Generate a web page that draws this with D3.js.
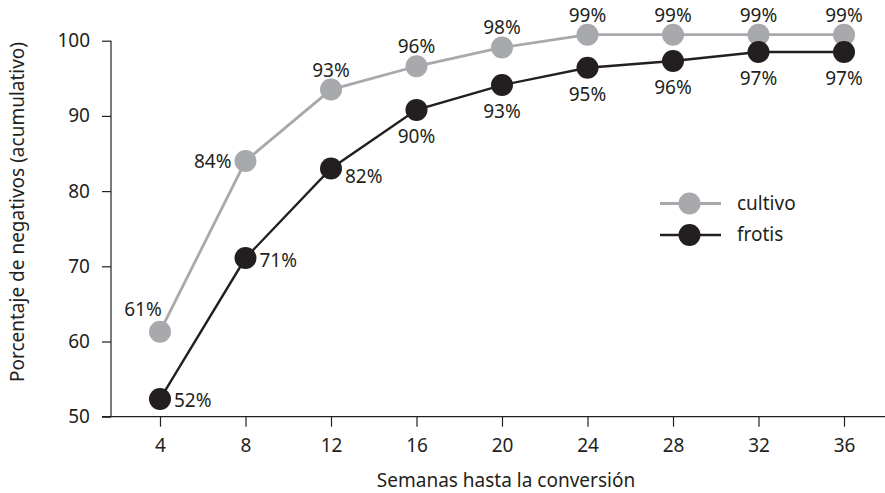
<!DOCTYPE html>
<html><head><meta charset="utf-8">
<script src="https://cdn.jsdelivr.net/npm/d3@7"></script>
<style>body{margin:0;background:#fff}svg{display:block}text{font-family:"Noto Sans",sans-serif;fill:#231f20}</style>
</head><body>
<svg id="c" width="885" height="493"></svg>
<script>
const weeks = [4, 8, 12, 16, 20, 24, 28, 32, 36];
const cultivo = [61.3, 84.0, 93.5, 96.6, 99.1, 100.8, 100.8, 100.8, 100.8];
const cultivoLabels = ["61%", "84%", "93%", "96%", "98%", "99%", "99%", "99%", "99%"];
const frotis = [52.35, 71.1, 83.0, 90.8, 94.1, 96.4, 97.3, 98.5, 98.5];
const frotisLabels = ["52%", "71%", "82%", "90%", "93%", "95%", "96%", "97%", "97%"];
const yTicks = [50, 60, 70, 80, 90, 100];
const seriesNames = ["cultivo", "frotis"];

const GRAY = "#a7a9ac", BLACK = "#231f20";
const svg = d3.select("#c");
const x = d3.scaleLinear().domain([4, 36]).range([160, 844]);
const y = d3.scaleLinear().domain([50, 100]).range([416.7, 40.7]);
const FS = 19;

// y axis
const yAxis = svg.append("g").attr("transform", "translate(111,0)")
  .call(d3.axisLeft(y).tickValues(yTicks).tickSize(9).tickPadding(12));
yAxis.select(".domain").remove();
svg.append("line").attr("x1",111).attr("x2",111).attr("y1",y(100)).attr("y2",y(50))
  .attr("stroke",BLACK).attr("stroke-width",1.2);
// x axis
const xAxis = svg.append("g").attr("transform", `translate(0,${y(50)})`)
  .call(d3.axisBottom(x).tickValues(weeks).tickSize(10).tickPadding(12));
xAxis.select(".domain").remove();
svg.append("line").attr("x1",102).attr("x2",885).attr("y1",y(50)).attr("y2",y(50))
  .attr("stroke",BLACK).attr("stroke-width",1.2);
svg.selectAll(".tick line").attr("stroke",BLACK).attr("stroke-width",1.2);
svg.selectAll(".tick text").attr("font-size",FS).attr("font-family","Noto Sans").attr("fill",BLACK);

// titles
svg.append("text").attr("transform","translate(24,212) rotate(-90)").attr("text-anchor","middle")
  .attr("font-size",FS).text("Porcentaje de negativos (acumulativo)");
svg.append("text").attr("x",506).attr("y",487).attr("text-anchor","middle")
  .attr("font-size",FS).text("Semanas hasta la conversión");

const line = d3.line().x((d,i)=>x(weeks[i])).y(d=>y(d));
function drawSeries(vals, color, sw){
  svg.append("path").datum(vals).attr("d",line).attr("fill","none")
    .attr("stroke",color).attr("stroke-width",sw);
  svg.append("g").selectAll("circle").data(vals).join("circle")
    .attr("cx",(d,i)=>x(weeks[i])).attr("cy",d=>y(d)).attr("r",11).attr("fill",color);
}
drawSeries(cultivo, GRAY, 2.8);
drawSeries(frotis, BLACK, 2.4);

// cultivo labels
svg.append("g").selectAll("text").data(cultivo).join("text")
  .attr("font-size",FS)
  .attr("x",(d,i)=> i===0 ? x(weeks[i])-17 : i===1 ? x(weeks[i])-14 : x(weeks[i]))
  .attr("y",(d,i)=> i===0 ? y(d)-16 : i===1 ? y(d)+7 : y(d)-13)
  .attr("text-anchor",(d,i)=> i===0 ? "middle" : i===1 ? "end" : "middle")
  .text((d,i)=>cultivoLabels[i]);
// frotis labels
svg.append("g").selectAll("text").data(frotis).join("text")
  .attr("font-size",FS)
  .attr("x",(d,i)=> i<3 ? x(weeks[i])+14 : x(weeks[i]))
  .attr("y",(d,i)=> i===0 ? y(d)+8 : i===1 ? y(d)+9 : i===2 ? y(d)+14 : y(d)+33)
  .attr("text-anchor",(d,i)=> i<3 ? "start" : "middle")
  .text((d,i)=>frotisLabels[i]);

// legend
const leg = svg.append("g");
[GRAY, BLACK].forEach((c,i)=>{
  const ly = 203.5 + i*31.5;
  leg.append("line").attr("x1",660).attr("x2",721).attr("y1",ly).attr("y2",ly)
    .attr("stroke",c).attr("stroke-width", i===0?2.8:2.4);
  leg.append("circle").attr("cx",689.5).attr("cy",ly).attr("r",11).attr("fill",c);
  leg.append("text").attr("x",737).attr("y",ly+6).attr("font-size",FS).text(seriesNames[i]);
});
</script>
</body></html>
